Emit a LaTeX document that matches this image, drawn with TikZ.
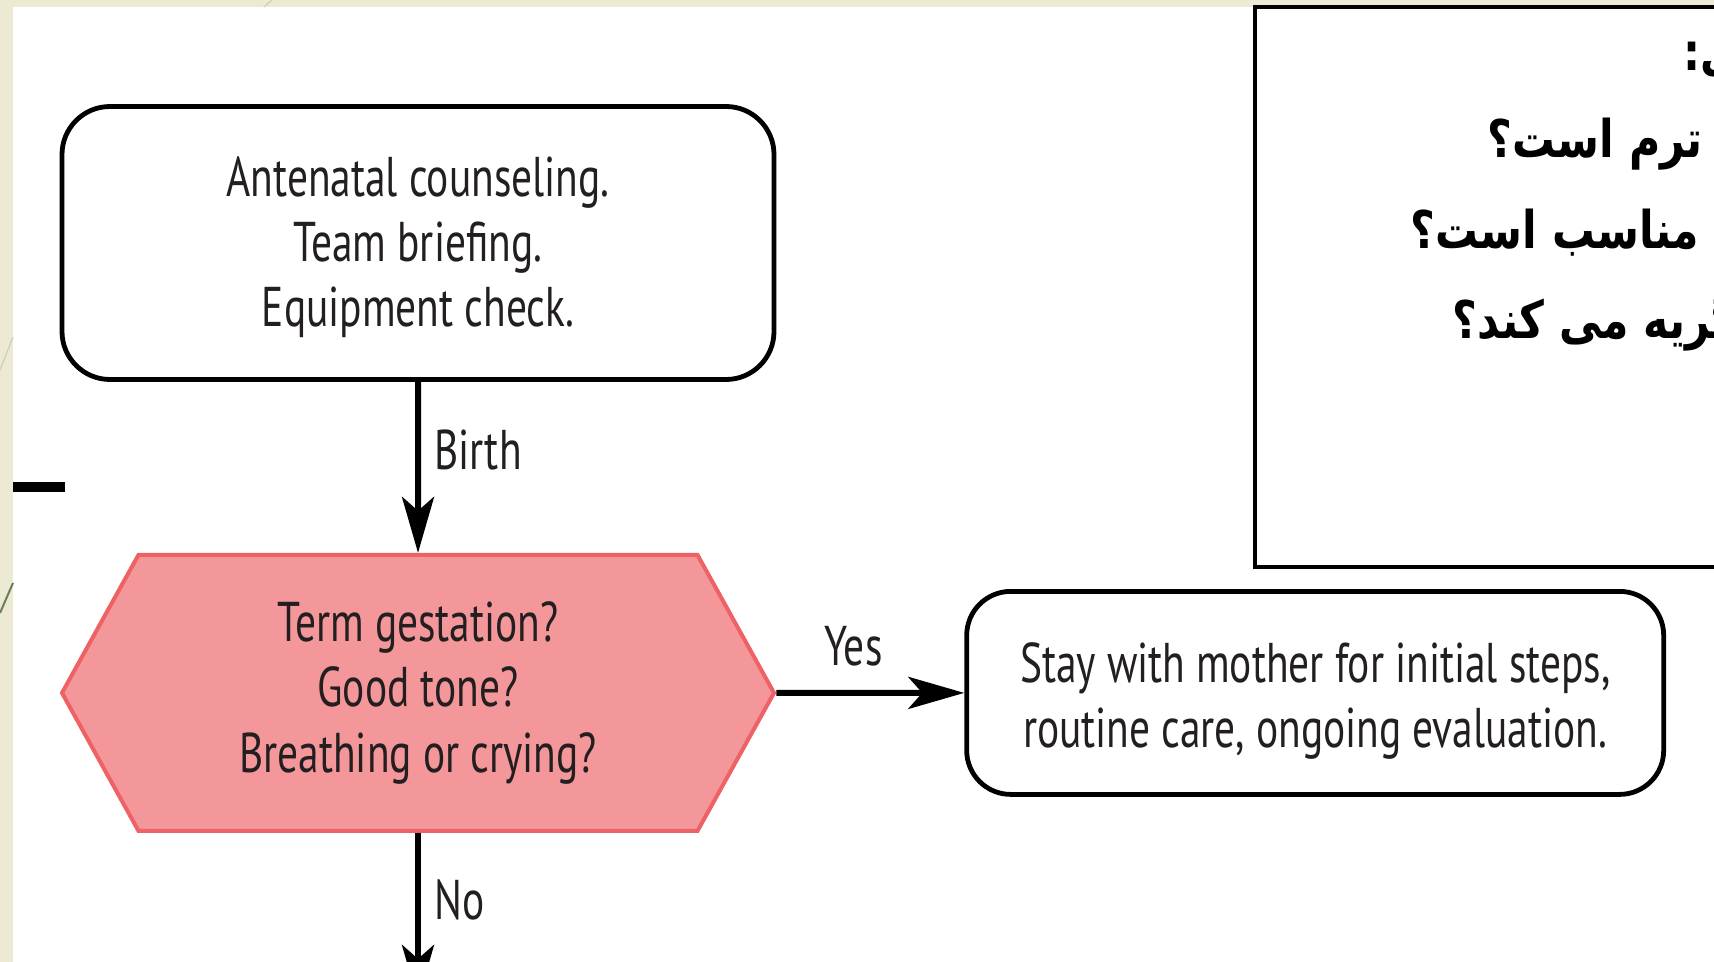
\documentclass[tikz,border=0pt]{standalone}
\usepackage{xcolor}
\usepackage{fontspec}
\setmainfont[FakeStretch=0.74]{PT Sans}
\newfontfamily\arabicfont[Script=Arabic, FakeStretch=0.82]{DejaVu Sans}
\TeXXeTstate=1
\usepackage{tikz}
\usetikzlibrary{shapes.symbols, arrows.meta, positioning}

\definecolor{slidebg}{HTML}{EDEAD3}
\definecolor{decolight}{HTML}{CDD0B8}
\definecolor{decodark}{HTML}{6E7D58}
\definecolor{textdark}{HTML}{231F20}
\definecolor{hexfill}{HTML}{F4979B}
\definecolor{hexline}{HTML}{EE6165}
\definecolor{pblue}{HTML}{14A9E3}

\begin{document}
\begin{tikzpicture}[x=0.25pt, y=-0.25pt, >={Stealth[length=14pt, width=8pt, inset=3.5pt]}, text=textdark]
    \useasboundingbox (0,0) rectangle (1714,962);
    \clip (0,0) rectangle (1714,962);
    % slide background
    \fill [white] (0,0) rectangle (1714,962);
    \fill [slidebg] (0,0) rectangle (13,962);
    \fill [slidebg] (0,0) rectangle (1714,7);
    \draw [decolight, line width=0.3pt] (0,370) -- (13,337);
    \draw [decolight, line width=0.3pt] (264,7) -- (272,0);
    \draw [decodark, line width=0.5pt] (0,613) -- (13,583);
    \draw [black, line width=2.5pt] (13,487) -- (65,487);

    % flow chart
    \node [rectangle, rounded corners=12pt, draw, line width=1.2pt, minimum width=178pt, minimum height=68.25pt, text height=44.5pt, align=center, font=\fontsize{14}{16.2}\selectfont] (counsel) at (418,243) {Antenatal counseling.\\Team briefing.\\Equipment check.};
    \node [signal, signal to=west and east, signal pointer angle=122, draw=hexline, fill=hexfill, line width=1pt, minimum width=178pt, minimum height=69pt, align=center, font=\fontsize{14}{16.4}\selectfont, below=42.75pt of counsel] (gest) {Term gestation?\\Good tone?\\Breathing or crying?};
    \node [rectangle, rounded corners=11pt, draw, line width=1.2pt, minimum width=174.25pt, minimum height=50.75pt, text height=30.5pt, align=center, font=\fontsize{14}{16.25}\selectfont, right=47pt of gest] (stay) {Stay with mother for initial steps,\\routine care, ongoing evaluation.};
    \coordinate [below=42pt of gest] (next);

    \draw [->, line width=1.5pt] (counsel) -- node [right, pos=0.4, font=\fontsize{14}{16}\selectfont] {Birth} (gest);
    \draw [->, line width=1.5pt] (gest) -- node [above=2.5pt, pos=0.41, font=\fontsize{14}{16}\selectfont] {Yes} (stay);
    \draw [->, line width=1.5pt] (gest) -- node [right, pos=0.4, font=\fontsize{14}{16}\selectfont] {No} (next);

    % persian questions
    \node [draw, line width=0.9pt, anchor=north west, minimum width=150pt, minimum height=140pt, inner sep=0] (qbox) at (1253,5) {};
    \node [anchor=base west, inner sep=0, text=black, font=\arabicfont\bfseries\fontsize{13}{16}\selectfont] (q1) at (1683,71) {\beginR سی:\endR};
    \node [anchor=base west, inner sep=0, text=black, font=\arabicfont\bfseries\fontsize{13}{16}\selectfont] (q2) at (1487,158) {\beginR\textcolor{pblue}{ترم} است؟\endR};
    \node [anchor=base west, inner sep=0, text=black, font=\arabicfont\bfseries\fontsize{13}{16}\selectfont] (q3) at (1410,249) {\beginR مناسب است؟\endR};
    \node [anchor=base west, inner sep=0, text=black, font=\arabicfont\bfseries\fontsize{13}{16}\selectfont] (q4) at (1452,339) {\beginR\textcolor{pblue}{گریه} می کند؟\endR};
\end{tikzpicture}
\end{document}
